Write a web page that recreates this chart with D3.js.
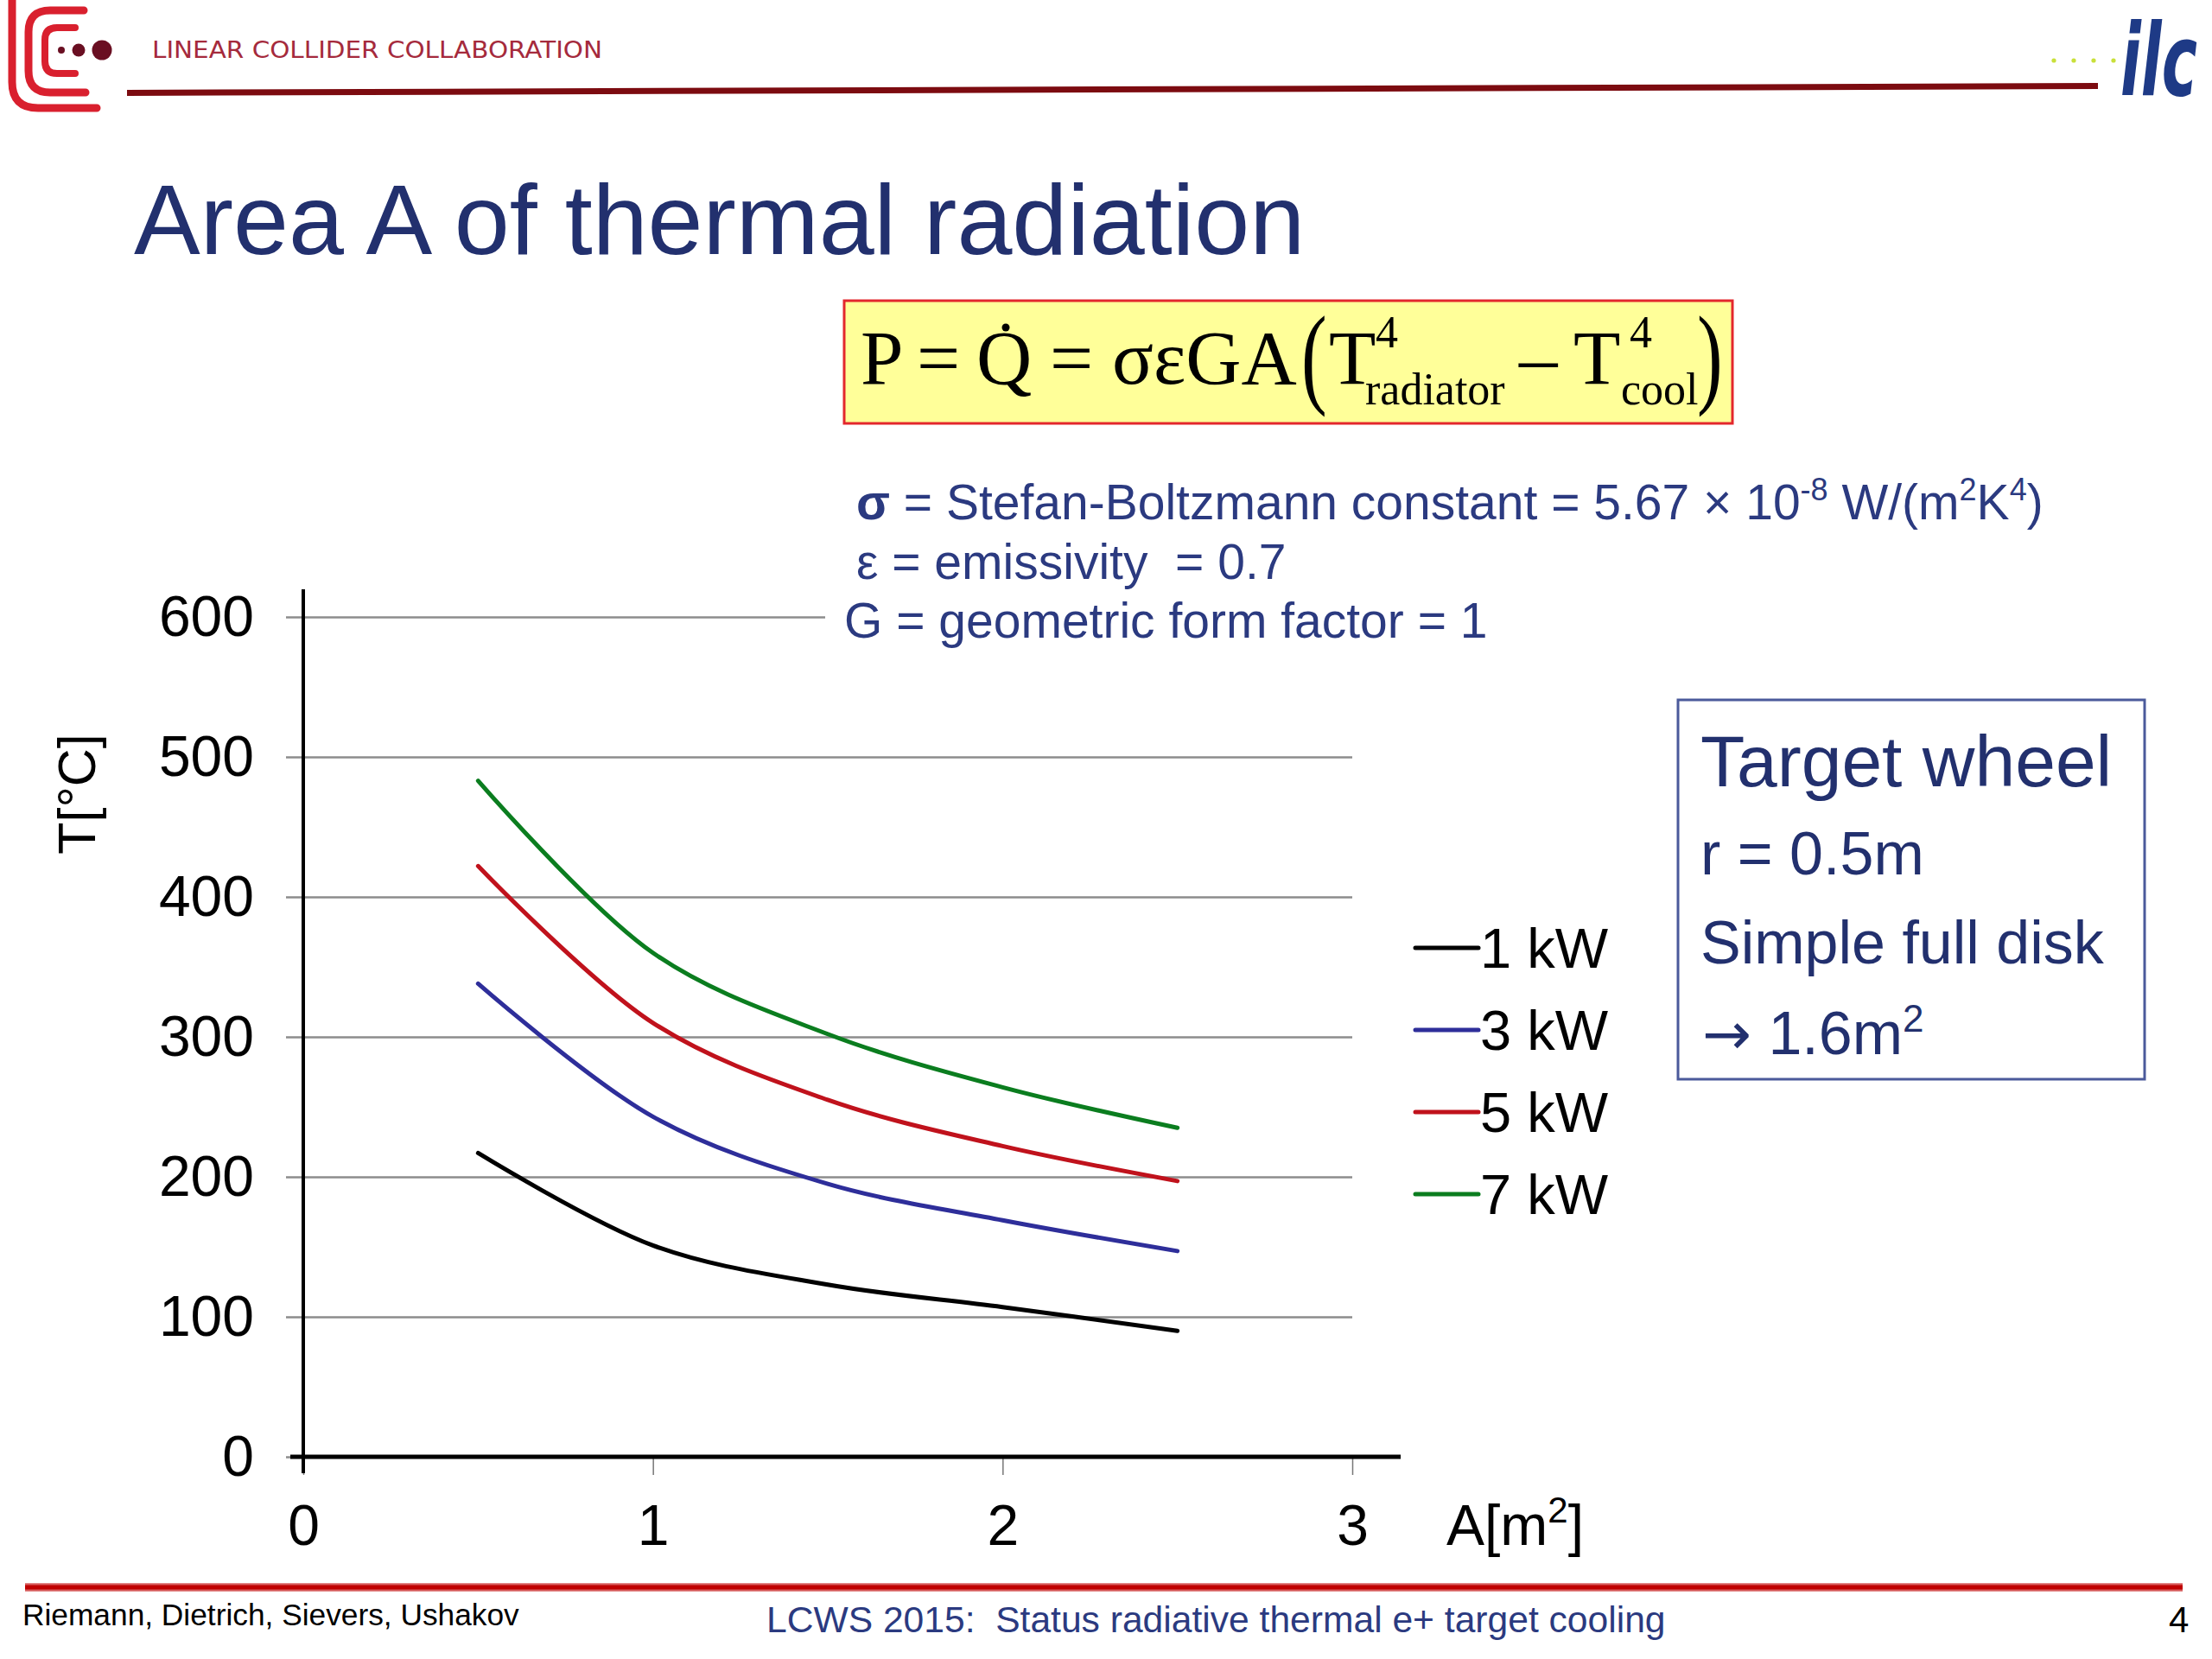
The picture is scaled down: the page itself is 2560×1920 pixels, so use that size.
<!DOCTYPE html>
<html>
<head>
<meta charset="utf-8">
<script src="https://cdn.jsdelivr.net/npm/d3@7"></script>
<style>
  html, body { margin: 0; padding: 0; background: #fff; }
  svg { display: block; }
</style>
</head>
<body>
<script>
// ---------------- data ----------------
const areas = [0.5, 1.0, 1.5, 2.0, 2.5];           // A [m²]
const temp1kW = [217, 151, 123, 107, 90];           // T [°C]
const temp3kW = [338, 243, 195, 169, 147];
const temp5kW = [422, 310, 255, 222, 197];
const temp7kW = [483, 360, 302, 264, 235];
const seriesNames = ["1 kW", "3 kW", "5 kW", "7 kW"];
const seriesColors = ["#000000", "#2e2e9a", "#c0121c", "#0b7d1f"];
const xTicks = [0, 1, 2, 3];
const yTicks = [0, 100, 200, 300, 400, 500, 600];
const boxLines = ["Target wheel", "r = 0.5m", "Simple full disk"];

const seriesValues = [temp1kW, temp3kW, temp5kW, temp7kW];

// ---------------- setup ----------------
const W = 2560, H = 1920;
const svg = d3.select("body").append("svg").attr("width", W).attr("height", H);
svg.append("rect").attr("width", W).attr("height", H).attr("fill", "#fff");

const SANS = "'Liberation Sans', Arial, Helvetica, sans-serif";
const SERIF = "'Liberation Serif', 'Times New Roman', serif";
const NAVY = "#22306e";

// ---------------- header ----------------
const hdr = svg.append("g");
const red = "#d9202e";
hdr.append("path").attr("d", "M14,0 L14,95 Q14,125 44,125 L112,125")
  .attr("fill", "none").attr("stroke", red).attr("stroke-width", 9).attr("stroke-linecap", "round");
hdr.append("path").attr("d", "M97,12 L58,12 Q33,12 33,37 L33,82 Q33,107 58,107 L99,107")
  .attr("fill", "none").attr("stroke", red).attr("stroke-width", 9).attr("stroke-linecap", "round");
hdr.append("path").attr("d", "M87,32 L66,32 Q52,32 52,46 L52,71 Q52,85 66,85 L87,85")
  .attr("fill", "none").attr("stroke", red).attr("stroke-width", 8).attr("stroke-linecap", "round");
[[71, 4], [91, 7.5], [118, 11.5]].forEach(d => {
  hdr.append("circle").attr("cx", d[0]).attr("cy", 58).attr("r", d[1]).attr("fill", "#6a0f22");
});
hdr.append("text").attr("x", 176).attr("y", 67)
  .attr("font-family", "'DejaVu Sans', sans-serif").attr("font-size", 27)
  .attr("fill", "#a52a3c").attr("textLength", 521).attr("lengthAdjust", "spacingAndGlyphs")
  .text("LINEAR COLLIDER COLLABORATION");
hdr.append("path").attr("d", "M147,104 L2428,96 L2428,103 L147,111 Z").attr("fill", "#7c0b10");
d3.range(7).forEach(i => {
  hdr.append("circle").attr("cx", 2377 + i * 23).attr("cy", 70).attr("r", 2.6).attr("fill", "#c9e03a");
});
hdr.append("text").attr("transform", "translate(2454,110) scale(0.6,1)")
  .attr("font-family", "'DejaVu Sans', sans-serif").attr("font-weight", "bold").attr("font-style", "italic")
  .attr("font-size", 116).attr("fill", "#1e3a86")
  .text("ilc");

// ---------------- title ----------------
svg.append("text").attr("x", 155).attr("y", 294)
  .attr("font-family", SANS).attr("font-size", 115).attr("fill", NAVY)
  .text("Area A of thermal radiation");

// ---------------- formula box ----------------
const fb = svg.append("g");
fb.append("rect").attr("x", 977).attr("y", 348).attr("width", 1028).attr("height", 142)
  .attr("fill", "#ffff99").attr("stroke", "#e3272d").attr("stroke-width", 3);
const ft = (x, y, s, t) => fb.append("text").attr("x", x).attr("y", y).attr("font-family", SERIF)
    .attr("font-size", s).attr("fill", "#000").text(t);
const paren = (x, t) => fb.append("text").attr("transform", `translate(${x},455) scale(1,1.45)`)
    .attr("font-family", SERIF).attr("font-size", 89).attr("fill", "#000").text(t);
ft(996, 444, 89, "P");
ft(1061, 444, 89, "=");
ft(1130, 444, 89, "Q");
fb.append("circle").attr("cx", 1164).attr("cy", 379).attr("r", 4.5).attr("fill", "#000");
ft(1215, 444, 89, "=");
ft(1287, 444, 89, "σεGA");
paren(1506, "(");
ft(1538, 444, 89, "T");
ft(1592, 402, 52, "4");
ft(1580, 468, 52, "radiator");
ft(1758, 444, 89, "–");
ft(1821, 444, 89, "T");
ft(1886, 402, 52, "4");
ft(1876, 468, 52, "cool");
paren(1964, ")");

// ---------------- scales ----------------
const x = d3.scaleLinear().domain([0, 3]).range([351, 1565]);
const y = d3.scaleLinear().domain([0, 600]).range([1686, 714]);

const yAxis = d3.axisLeft(y).tickValues(yTicks).tickSize(x(3) - 331).tickPadding(37).tickFormat(d3.format("d"));
const gy = svg.append("g").attr("transform", `translate(${x(3)},0)`).call(yAxis);
gy.select(".domain").remove();
gy.selectAll(".tick line").attr("stroke", "#8c8c8c").attr("stroke-width", 2.5);
gy.selectAll(".tick text").attr("font-family", SANS).attr("font-size", 66).attr("fill", "#000");

const xAxis = d3.axisBottom(x).tickValues(xTicks).tickSize(21).tickPadding(34).tickFormat(d3.format("d"));
const gx = svg.append("g").attr("transform", `translate(0,${y(0)})`).call(xAxis);
gx.select(".domain").remove();
gx.selectAll(".tick line").attr("stroke", "#777").attr("stroke-width", 1.5);
gx.selectAll(".tick text").attr("font-family", SANS).attr("font-size", 66).attr("fill", "#000");
svg.append("line").attr("x1", 336).attr("x2", 1621).attr("y1", y(0)).attr("y2", y(0))
  .attr("stroke", "#000").attr("stroke-width", 5);
svg.append("line").attr("x1", x(0)).attr("x2", x(0)).attr("y1", y(600) - 32).attr("y2", y(0) + 19)
  .attr("stroke", "#000").attr("stroke-width", 4);

const axT = svg.append("text").attr("x", 1674).attr("y", 1788)
  .attr("font-family", SANS).attr("font-size", 66).attr("fill", "#000");
axT.append("tspan").text("A[m");
axT.append("tspan").attr("font-size", 42).attr("dy", -26).text("2");
axT.append("tspan").attr("dy", 26).text("]");

svg.append("text").attr("transform", "translate(110,919) rotate(-90)")
  .attr("text-anchor", "middle").attr("font-family", SANS).attr("font-size", 61).attr("fill", "#000")
  .text("T[°C]");

// ---------------- curves ----------------
const line = d3.line().x(d => x(d[0])).y(d => y(d[1])).curve(d3.curveCatmullRom.alpha(0.5));
seriesValues.forEach((vals, i) => {
  svg.append("path").datum(areas.map((a, j) => [a, vals[j]]))
    .attr("d", line).attr("fill", "none").attr("stroke", seriesColors[i])
    .attr("stroke-width", 5).attr("stroke-linecap", "round").attr("stroke-linejoin", "round");
});

// ---------------- legend ----------------
const lg = svg.append("g");
seriesNames.forEach((n, i) => {
  const ly = 1097 + i * 95;
  lg.append("line").attr("x1", 1638).attr("x2", 1711).attr("y1", ly).attr("y2", ly)
    .attr("stroke", seriesColors[i]).attr("stroke-width", 5).attr("stroke-linecap", "round");
  lg.append("text").attr("x", 1713).attr("y", ly + 23)
    .attr("font-family", SANS).attr("font-size", 65).attr("fill", "#000").text(n);
});

// ---------------- constants text ----------------
const ct = svg.append("g");
ct.append("rect").attr("x", 955).attr("y", 540).attr("width", 1420).attr("height", 212).attr("fill", "#fff");
const CNAVY = "#2b3a80";
const l1 = ct.append("text").attr("x", 991).attr("y", 601).attr("font-family", SANS)
  .attr("font-size", 57).attr("fill", CNAVY);
l1.append("tspan").attr("font-weight", "bold").text("σ");
l1.append("tspan").text(" = Stefan-Boltzmann constant = 5.67 × 10");
l1.append("tspan").attr("font-size", 36).attr("dy", -22).text("-8");
l1.append("tspan").attr("dy", 22).text(" W/(m");
l1.append("tspan").attr("font-size", 36).attr("dy", -22).text("2");
l1.append("tspan").attr("dy", 22).text("K");
l1.append("tspan").attr("font-size", 36).attr("dy", -22).text("4");
l1.append("tspan").attr("dy", 22).text(")");
ct.append("text").attr("x", 991).attr("y", 670).attr("font-family", SANS)
  .attr("font-size", 57).attr("fill", CNAVY).attr("xml:space", "preserve")
  .text("ε = emissivity  = 0.7");
ct.append("text").attr("x", 977).attr("y", 738).attr("font-family", SANS)
  .attr("font-size", 57).attr("fill", CNAVY).text("G = geometric form factor = 1");

// ---------------- target wheel box ----------------
const tb = svg.append("g");
tb.append("rect").attr("x", 1942).attr("y", 810).attr("width", 540).attr("height", 439)
  .attr("fill", "#fff").attr("stroke", "#4b5a9b").attr("stroke-width", 3);
const boxSizes = [84, 70, 70];
const boxY = [910, 1012, 1115];
boxLines.forEach((t, i) => {
  tb.append("text").attr("x", 1968).attr("y", boxY[i]).attr("font-family", SANS)
    .attr("font-size", boxSizes[i]).attr("fill", NAVY).text(t);
});
const l4 = tb.append("text").attr("x", 1970).attr("y", 1220).attr("font-family", SANS)
  .attr("font-size", 70).attr("fill", NAVY);
l4.append("tspan").attr("font-family", "'DejaVu Sans', sans-serif").attr("font-size", 68).text("→");
l4.append("tspan").text(" 1.6m");
l4.append("tspan").attr("font-size", 44).attr("dy", -26).text("2");

// ---------------- footer ----------------
const grad = svg.append("defs").append("linearGradient").attr("id", "fg")
  .attr("x1", 0).attr("x2", 0).attr("y1", 0).attr("y2", 1);
grad.append("stop").attr("offset", "0%").attr("stop-color", "#e8a0a0");
grad.append("stop").attr("offset", "35%").attr("stop-color", "#c00000");
grad.append("stop").attr("offset", "65%").attr("stop-color", "#c00000");
grad.append("stop").attr("offset", "100%").attr("stop-color", "#e8a0a0");
svg.append("rect").attr("x", 29).attr("y", 1832).attr("width", 2497).attr("height", 10).attr("fill", "url(#fg)");
svg.append("text").attr("x", 26).attr("y", 1881).attr("font-family", SANS).attr("font-size", 35.3)
  .attr("fill", "#000").text("Riemann, Dietrich, Sievers, Ushakov");
svg.append("text").attr("x", 887).attr("y", 1889).attr("font-family", SANS).attr("font-size", 42.6)
  .attr("fill", CNAVY).attr("xml:space", "preserve").text("LCWS 2015:  Status radiative thermal e+ target cooling");
svg.append("text").attr("x", 2510).attr("y", 1889).attr("font-family", SANS).attr("font-size", 42)
  .attr("fill", "#000").text("4");
</script>
</body>
</html>
